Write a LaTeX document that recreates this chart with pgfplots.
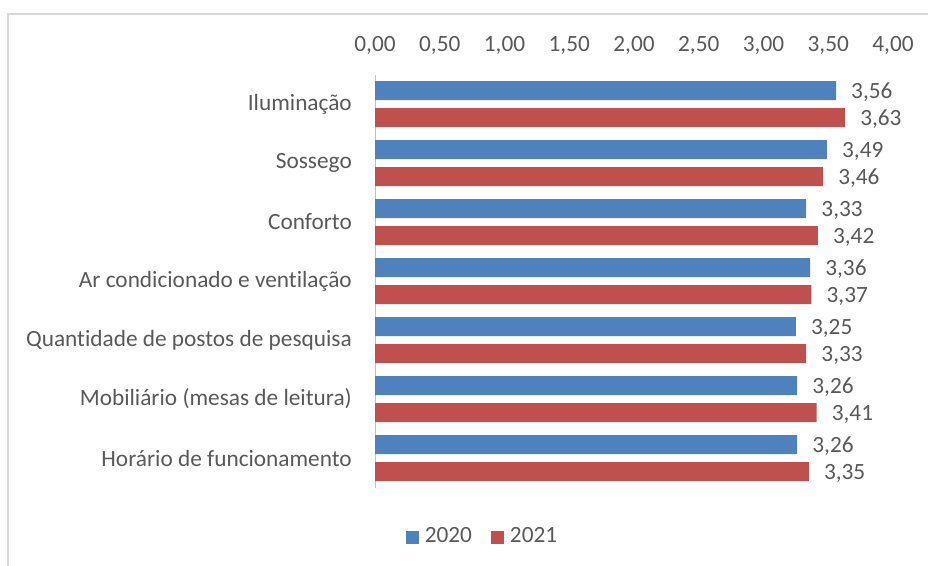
\documentclass[border=0pt]{standalone}
\usepackage{pgfplots}
\pgfplotsset{compat=1.18}
\usepackage{fontspec}
\setmainfont{Carlito}[Ligatures={NoCommon}]
\definecolor{b20}{HTML}{4F81BD}
\definecolor{r21}{HTML}{C0504D}
\definecolor{txt}{HTML}{595959}
\definecolor{frm}{HTML}{D9D9D9}
\definecolor{axl}{HTML}{BFBFBF}
\begin{document}
\fontsize{23.3}{28}\selectfont
\begin{tikzpicture}[font=\fontsize{23.3}{28}\selectfont]
\useasboundingbox (0pt,0pt) rectangle (928pt,-565pt);
\draw[frm, line width=1.5pt] (8pt,-575pt) -- (8pt,-14pt) -- (940pt,-14pt);
\begin{axis}[
  at={(375pt,-487.5pt)}, anchor=south west,
  scale only axis, width=518pt, height=413pt,
  xmin=0, xmax=4, ymin=-0.5, ymax=6.5,
  xbar, bar width=19pt,
  axis x line*=top, axis y line*=left,
  x axis line style={draw=none},
  y axis line style={draw=axl, line width=1pt, -},
  major tick length=0pt,
  xtick={0,0.5,1,1.5,2,2.5,3,3.5,4},
  xticklabel style={text=txt, anchor=center, inner sep=0pt, yshift=29pt,
    /pgf/number format/.cd, fixed, fixed zerofill, precision=2, use comma, assume math mode=true},
  ytick={0,1,2,3,4,5,6},
  yticklabels={Horário de funcionamento, Mobiliário (mesas de leitura), Quantidade de postos de pesquisa, Ar condicionado e ventilação, Conforto, Sossego, Iluminação},
  yticklabel style={text=txt, anchor=east, inner sep=0pt, xshift=-23pt},
  nodes near coords,
  every node near coord/.append style={text=txt, anchor=west, inner sep=0pt, xshift=15pt, yshift=-1.5pt,
    /pgf/number format/.cd, fixed, fixed zerofill, precision=2, use comma, assume math mode=true},
  legend style={at={(0.2075,-0.12)}, anchor=center, draw=none, fill=none,
    legend columns=2, text=txt, /tikz/every even column/.append style={column sep=17pt}},
  legend image code/.code={\fill[#1] (0pt,-6.5pt) rectangle (13pt,6.5pt); \path (13pt,0pt) -- (17pt,0pt);},
]
\addplot[fill=b20, draw=none, bar shift=13.5pt] coordinates {
  (3.26,0) (3.26,1) (3.25,2) (3.36,3) (3.33,4) (3.49,5) (3.56,6)};
\addplot[fill=r21, draw=none, bar shift=-13.5pt] coordinates {
  (3.35,0) (3.41,1) (3.33,2) (3.37,3) (3.42,4) (3.46,5) (3.63,6)};
\legend{2020,2021}
\end{axis}
\end{tikzpicture}
\end{document}
